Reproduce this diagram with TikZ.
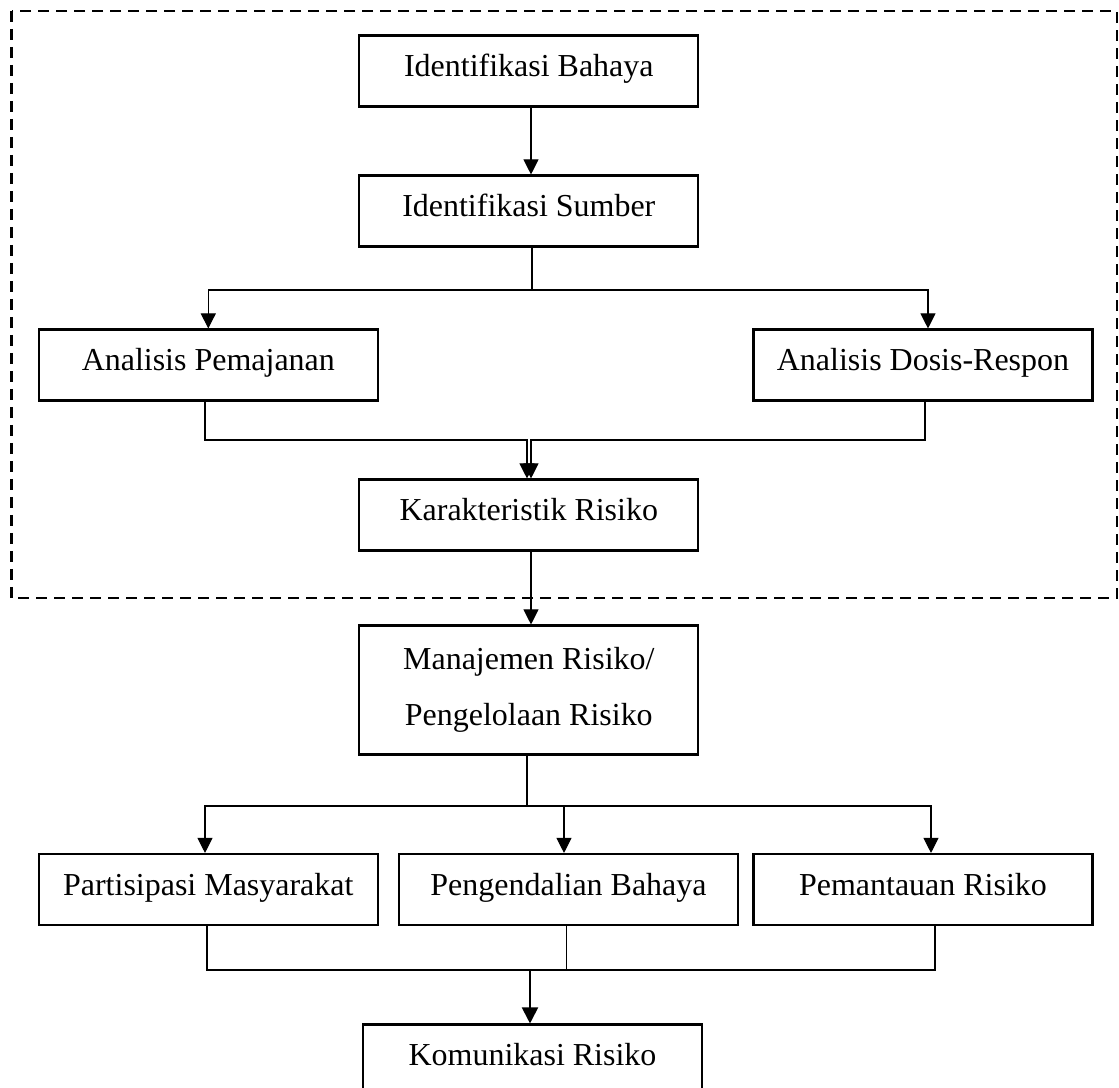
\documentclass[tikz,border=0pt]{standalone}
\usepackage{fontspec}
\setmainfont{Liberation Serif}
\usetikzlibrary{arrows.meta,calc}
\begin{document}
\begin{tikzpicture}[x=0.02cm,y=-0.02cm,
  box/.style={draw,line width=1.2pt,minimum width=6.78cm,minimum height=1.42cm,inner sep=0pt,
    font=\fontsize{18.2}{32.2}\selectfont,text height=0.5cm,text depth=0.28cm},
  tallbox/.style={draw,line width=1.2pt,minimum width=6.78cm,minimum height=2.58cm,inner sep=0pt,
    font=\fontsize{18.2}{32.2}\selectfont,align=center},
  conn/.style={line width=0.6pt},
  arr/.style={conn,-{Triangle[length=0.3cm,width=0.3cm]}},
  arrthick/.style={line width=1.1pt,-{Triangle[length=0.32cm,width=0.32cm]}},
  frame/.style={line width=1.4pt,dash pattern=on 0.22cm off 0.14cm}]
\useasboundingbox (0,0) rectangle (1119,1088);
\clip (0,0) rectangle (1119,1088);

% dashed frame
\draw[frame] (11.5,11) rectangle (1117,598);

% nodes
\node[box] (IB) at (528.8,71) {Identifikasi Bahaya};
\node[box] (IS) at (528.8,211) {Identifikasi Sumber};
\node[box] (AP) at (208.3,365) {Analisis Pemajanan};
\node[box] (ADR) at (923,365) {Analisis Dosis-Respon};
\node[box] (KR) at (528.8,515) {Karakteristik Risiko};
\node[tallbox] (M) at (528.8,690) {Manajemen Risiko/\\Pengelolaan Risiko};
\node[box] (PM) at (208.3,889.5) {Partisipasi Masyarakat};
\node[box] (PB) at (568.5,889.5) {Pengendalian Bahaya};
\node[box] (PR) at (923,889.5) {Pemantauan Risiko};
\node[box] (KoR) at (532.5,1060) {Komunikasi Risiko};

% helper coordinates
\coordinate (xa) at (531,0);
\coordinate (j1) at (532,290);
\coordinate (kl) at (527,440);
\coordinate (kr) at (531,440);
\coordinate (j3) at (527,806);
\coordinate (j4) at (530,970);

% connectors
\draw[arr] (IB.south -| xa) -- (IS.north -| xa);
\draw[conn] (IS.south -| j1) -- (j1);
\draw[arr] (j1) -| (AP.north);
\draw[arr] (j1) -| ([xshift=0.1cm]ADR.north);

\draw[arr] ([xshift=-0.066cm]AP.south) |- (kl) -- (KR.north -| kl);
\draw[arr] ([xshift=0.04cm]ADR.south) |- (kr) -- (KR.north -| kr);

\draw[arr] (KR.south -| xa) -- (M.north -| xa);

\draw[conn] (M.south -| j3) -- (j3);
\draw[arr] (j3) -| ([xshift=-0.066cm]PM.north);
\draw[arr] (j3) -| ([xshift=-0.09cm]PB.north);
\draw[arr] (j3) -| ([xshift=0.16cm]PR.north);

\draw[conn] ([xshift=-0.026cm]PM.south) |- (j4);
\draw[conn] ([xshift=-0.04cm]PB.south) |- (j4);
\draw[conn] ([xshift=0.24cm]PR.south) |- (j4);
\draw[arrthick] (j4) -- (KoR.north -| j4);
\end{tikzpicture}
\end{document}
